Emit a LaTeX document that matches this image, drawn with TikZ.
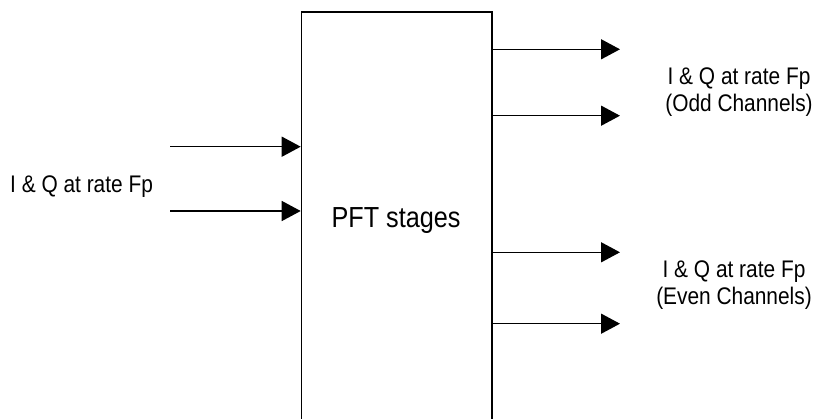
\documentclass[tikz,border=0pt]{standalone}
\usepackage{fontspec}
\setmainfont{Liberation Sans}[FakeStretch=0.87]
\usetikzlibrary{arrows.meta}
\tikzset{
  conn/.style={line width=1.5pt, -{Triangle[length=19pt,width=20pt]}},
  lbl/.style={inner sep=0pt, font=\fontsize{24}{26.7}\selectfont},
  boxlbl/.style={inner sep=0pt, font=\fontsize{29}{32}\selectfont},
}
\begin{document}
\begin{tikzpicture}[x=1pt,y=-1pt]
\useasboundingbox (0,0) rectangle (818,419);
\clip (0,0) rectangle (818,419);
\node[draw, line width=1.6pt, minimum width=190.3pt, minimum height=440pt, anchor=north west, inner sep=0pt] (box) at (300.7,11.5) {};
\node[boxlbl, anchor=base] (stages) at (396,228) {PFT stages};
% inputs
\coordinate (i1) at (170,146.7);
\coordinate (i2) at (170,211);
\draw[conn] (i1) -- (i1 -| box.west);
\draw[conn] (i2) -- (i2 -| box.west);
\node[lbl, anchor=base west] (inlbl) at (10,193) {I \& Q at rate Fp};
% outputs
\coordinate (o1) at (620,49.3);
\coordinate (o2) at (620,115.7);
\coordinate (o3) at (620,252.3);
\coordinate (o4) at (620,323.7);
\draw[conn] (box.east |- o1) -- (o1);
\draw[conn] (box.east |- o2) -- (o2);
\draw[conn] (box.east |- o3) -- (o3);
\draw[conn] (box.east |- o4) -- (o4);
\node[lbl, align=center, anchor=north] (oddlbl) at (739,67.5) {I \& Q at rate Fp\\(Odd Channels)};
\node[lbl, align=center, anchor=north] (evenlbl) at (734,260.5) {I \& Q at rate Fp\\(Even Channels)};
\end{tikzpicture}
\end{document}
